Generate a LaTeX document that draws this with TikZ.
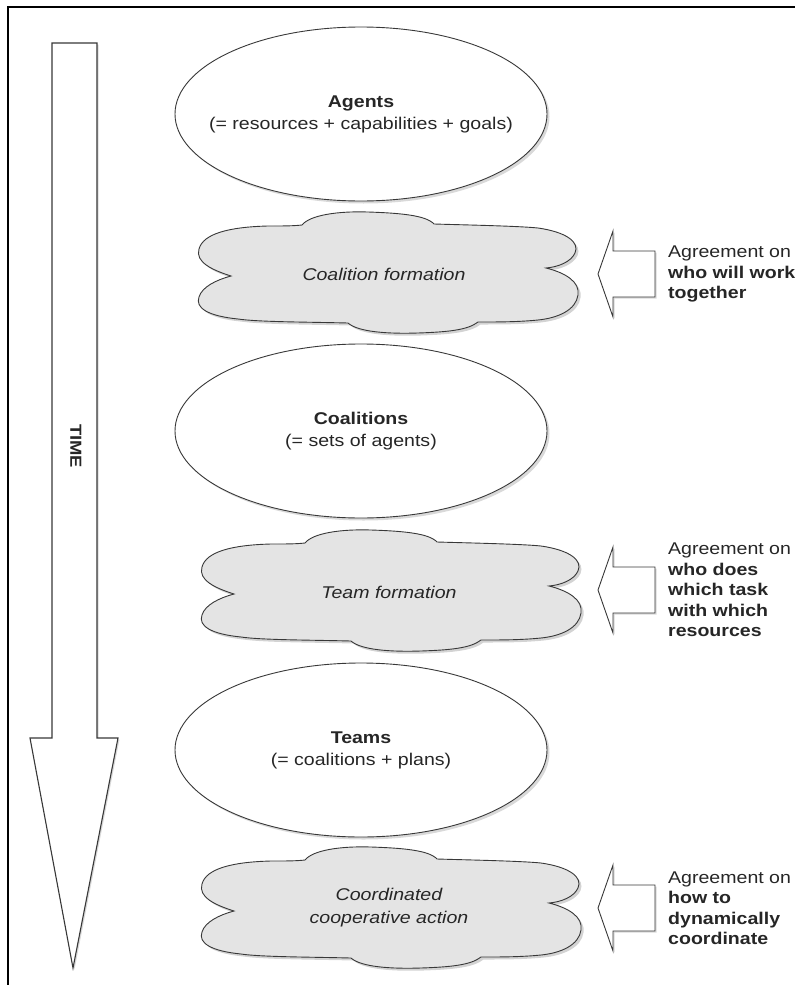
\documentclass[tikz,border=0pt]{standalone}
\usepackage{fontspec}
\setmainfont{Liberation Sans}[FakeStretch=1.15]
\usetikzlibrary{shadows,shapes.geometric}
\definecolor{ink}{HTML}{262626}
\definecolor{edge}{HTML}{383838}
\definecolor{cloudfill}{HTML}{E4E4E4}
\begin{document}
\begin{tikzpicture}[x=1pt,y=-1pt,
  every node/.style={font=\fontsize{17}{20}\selectfont, text=ink},
  oval/.style={ellipse, draw=edge, line width=0.9pt, fill=white, inner sep=0pt,
    minimum width=372pt, minimum height=174pt,
    drop shadow={shadow xshift=2.5pt, shadow yshift=-2.5pt, opacity=0.3, fill=gray}},
  ovaltext/.style={align=center, font=\fontsize{17}{22}\selectfont},
  cloudline/.style={draw=edge, line width=0.9pt, fill=cloudfill,
    drop shadow={shadow xshift=2.5pt, shadow yshift=-2.5pt, opacity=0.35, fill=gray}},
  cloudtext/.style={font=\itshape\fontsize{17}{23}\selectfont, align=center},
  blockarrow/.style={draw=edge, line width=0.9pt, fill=white,
    drop shadow={shadow xshift=1.5pt, shadow yshift=-1.5pt, opacity=0.3, fill=gray}},
  sidetext/.style={anchor=west, align=left, inner sep=0pt, font=\fontsize{17}{20.5}\selectfont},
  cloudpic/.pic={
    \path[cloudline] (-157,4)
      .. controls (-176,-2) and (-193,-10) .. (-189,-23)
      .. controls (-185,-38) and (-160,-45) .. (-120,-46)
      .. controls (-105,-46) and (-95,-46) .. (-86,-47)
      .. controls (-78,-57) and (-50,-61) .. (-20,-60)
      .. controls (10,-59) and (38,-57) .. (46,-48)
      .. controls (80,-47) and (130,-46) .. (150,-44)
      .. controls (178,-40) and (192,-30) .. (187,-19)
      .. controls (183,-10) and (170,-5) .. (158,-4)
      .. controls (178,1) and (192,10) .. (190,23)
      .. controls (188,38) and (170,46) .. (150,48)
      .. controls (130,50) and (110,50) .. (90,50)
      .. controls (80,58) and (60,60) .. (30,61)
      .. controls (0,62) and (-30,60) .. (-40,51)
      .. controls (-80,50) and (-130,50) .. (-150,47)
      .. controls (-180,44) and (-193,36) .. (-189,25)
      .. controls (-186,15) and (-172,8) .. cycle;
  },
  calloutpic/.pic={
    \path[blockarrow] (-28,0) -- (-13,-43) -- (-13,-23) -- (29,-23)
      -- (29,23) -- (-13,23) -- (-13,43) -- cycle;
  }
]
\useasboundingbox (0,0) rectangle (795,985);

% frame
\draw[line width=1.4pt, black] (8,985) -- (8,7) -- (795,7);

% time arrow
\path[blockarrow, line width=1.1pt] (52,43) -- (97,43) -- (97,738) -- (118,738)
  -- (73,968) -- (30,738) -- (52,738) -- cycle;
\node[rotate=-90, font=\bfseries\fontsize{16}{19}\selectfont] (time) at (76,446) {TIME};

% ellipses
\node[oval] (agents) at (361,114) {};
\node[ovaltext] (agentslbl) at (agents.center) {\textbf{Agents}\\(= resources + capabilities + goals)};
\node[oval] (coalitions) at (361,431) {};
\node[ovaltext] (coalitionslbl) at (coalitions.center) {\textbf{Coalitions}\\(= sets of agents)};
\node[oval] (teams) at (361,750) {};
\node[ovaltext] (teamslbl) at (teams.center) {\textbf{Teams}\\(= coalitions + plans)};

% clouds
\pic (c1) at (388,272) {cloudpic};
\node[cloudtext] (cf) at (384,274) {Coalition formation};
\pic (c2) at (391,590) {cloudpic};
\node[cloudtext] (tf) at (389,592) {Team formation};
\pic (c3) at (391,907) {cloudpic};
\node[cloudtext] (cca) at (389,908) {Coordinated\\cooperative action};

% callouts
\pic (a1) at (626,274) {calloutpic};
\node[sidetext] (t1) at (668,274) {Agreement on\\\textbf{who will work}\\\textbf{together}};
\pic (a2) at (626,590) {calloutpic};
\node[sidetext] (t2) at (668,590) {Agreement on\\\textbf{who does}\\\textbf{which task}\\\textbf{with which}\\\textbf{resources}};
\pic (a3) at (626,908) {calloutpic};
\node[sidetext] (t3) at (668,908) {Agreement on\\\textbf{how to}\\\textbf{dynamically}\\\textbf{coordinate}};
\end{tikzpicture}
\end{document}
